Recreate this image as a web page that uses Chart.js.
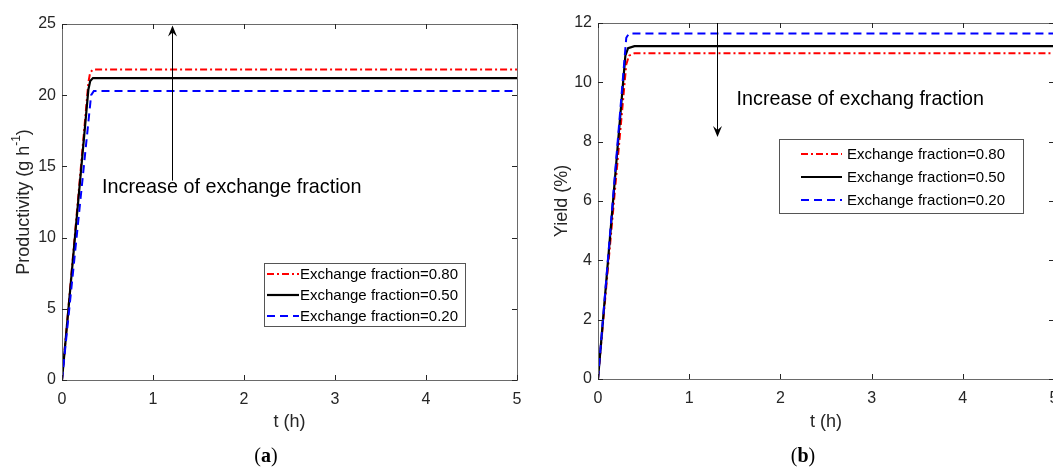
<!DOCTYPE html>
<html>
<head>
<meta charset="utf-8">
<script src="https://cdn.jsdelivr.net/npm/chart.js@4.4.1/dist/chart.umd.min.js"></script>
<style>
html, body { margin: 0; padding: 0; background: #fff; overflow: hidden; width: 1053px; height: 468px; }
#chart-a { position: absolute; left: 0; top: 0; }
#chart-b { position: absolute; left: 540px; top: 0; }
</style>
</head>
<body>
<canvas id="chart-a" width="540" height="468"></canvas>
<canvas id="chart-b" width="560" height="468"></canvas>
<script>
// ---- data ----
const seriesLabels = ['Exchange fraction=0.80', 'Exchange fraction=0.50', 'Exchange fraction=0.20'];
const xTicks = [0, 1, 2, 3, 4, 5];

// (a) productivity, g h^-1
const prodTime80 = [0, 0.29, 0.31, 0.34, 5];
const prodVal80  = [0, 20.9, 21.6, 21.8, 21.8];
const prodTime50 = [0, 0.29, 0.31, 0.34, 5];
const prodVal50  = [0, 20.4, 21.0, 21.2, 21.2];
const prodTime20 = [0, 0.32, 0.35, 5];
const prodVal20  = [0, 20.0, 20.3, 20.3];
const prodTicks  = [0, 5, 10, 15, 20, 25];

// (b) yield, %
const yieldTime80 = [0, 0.31, 0.34, 0.40, 5];
const yieldVal80  = [0, 10.6, 10.9, 10.98, 10.98];
const yieldTime50 = [0, 0.30, 0.33, 0.40, 5];
const yieldVal50  = [0, 10.9, 11.15, 11.22, 11.22];
const yieldTime20 = [0, 0.31, 0.34, 5];
const yieldVal20  = [0, 11.5, 11.65, 11.65];
const yieldTicks  = [0, 2, 4, 6, 8, 10, 12];

const FONT = "'Liberation Sans', Arial, sans-serif";
const INK = '#262626';

const lineStyles = [
    {borderColor: '#ff0000', borderDash: [7, 3, 2, 3], borderWidth: 2, order: 2},
    {borderColor: '#000000', borderDash: [], borderWidth: 2.2, order: 1},
    {borderColor: '#0000ff', borderDash: [8, 5], borderWidth: 2, order: 0}
];

function toPoints(ts, vals) {
    return ts.map((t, i) => ({x: t, y: vals[i]}));
}

// box, inward ticks on all four sides (matlab look)
const frame = {
    id: 'frame',
    afterDatasetsDraw(chart) {
        const {ctx, chartArea: a, scales: {x, y}} = chart;
        ctx.save();
        ctx.strokeStyle = '#6a6a6a';
        ctx.lineWidth = 1;
        ctx.strokeRect(Math.round(a.left) + 0.5, Math.round(a.top) + 0.5, Math.round(a.width), Math.round(a.height));
        ctx.strokeStyle = INK;
        ctx.beginPath();
        for (let t of x.ticks) {
            const px = Math.round(x.getPixelForValue(t.value)) + 0.5;
            ctx.moveTo(px, a.bottom); ctx.lineTo(px, a.bottom - 5);
            ctx.moveTo(px, a.top); ctx.lineTo(px, a.top + 5);
        }
        for (let t of y.ticks) {
            const py = Math.round(y.getPixelForValue(t.value)) + 0.5;
            ctx.moveTo(a.left, py); ctx.lineTo(a.left + 5, py);
            ctx.moveTo(a.right, py); ctx.lineTo(a.right - 5, py);
        }
        ctx.stroke();
        ctx.restore();
    }
};

// arrow + note, legend box, axis titles, caption
const extras = {
    id: 'extras',
    afterDraw(chart, args, o) {
        const {ctx, chartArea: a, scales: {x, y}} = chart;
        ctx.save();

        // arrow
        const ax = Math.round(x.getPixelForValue(o.arrow.x)) + 0.5;
        const y1 = y.getPixelForValue(o.arrow.from);
        const y2 = y.getPixelForValue(o.arrow.to);
        const dir = y2 < y1 ? -1 : 1;
        ctx.strokeStyle = '#000';
        ctx.lineWidth = 1;
        ctx.beginPath();
        ctx.moveTo(ax, y1);
        ctx.lineTo(ax, y2 - dir * 6);
        ctx.stroke();
        ctx.fillStyle = '#000';
        ctx.beginPath();
        ctx.moveTo(ax, y2);
        ctx.lineTo(ax - 4.5, y2 - dir * 11);
        ctx.lineTo(ax, y2 - dir * 7);
        ctx.lineTo(ax + 4.5, y2 - dir * 11);
        ctx.closePath();
        ctx.fill();

        // note
        ctx.font = o.note.size + 'px ' + FONT;
        ctx.fillStyle = '#000';
        ctx.textAlign = 'left';
        ctx.textBaseline = 'middle';
        ctx.fillText(o.note.text, x.getPixelForValue(o.note.x), y.getPixelForValue(o.note.y));

        // legend
        const L = o.legend;
        ctx.fillStyle = '#fff';
        ctx.fillRect(L.left, L.top, L.width, L.height);
        ctx.strokeStyle = '#555';
        ctx.lineWidth = 1;
        ctx.strokeRect(L.left + 0.5, L.top + 0.5, L.width, L.height);
        ctx.font = '15px ' + FONT;
        chart.data.datasets.forEach((ds, i) => {
            const ry = L.top + L.firstRow + i * L.rowGap;
            ctx.strokeStyle = ds.borderColor;
            ctx.lineWidth = ds.borderWidth;
            ctx.setLineDash(ds.borderDash);
            ctx.beginPath();
            ctx.moveTo(L.left + L.sampleLeft, ry);
            ctx.lineTo(L.left + L.sampleLeft + L.sampleLen, ry);
            ctx.stroke();
            ctx.setLineDash([]);
            ctx.fillStyle = '#000';
            ctx.textAlign = 'left';
            ctx.fillText(ds.label, L.left + L.textLeft, ry + 1);
        });

        // x title
        ctx.fillStyle = INK;
        ctx.font = '18px ' + FONT;
        ctx.textAlign = 'center';
        ctx.fillText('t (h)', (a.left + a.right) / 2, 422);

        // y title (rotated)
        ctx.save();
        ctx.translate(o.yTitleX, (a.top + a.bottom) / 2);
        ctx.rotate(-Math.PI / 2);
        const parts = o.yTitle;
        let total = 0;
        for (let p of parts) {
            ctx.font = (p.sup ? '12px ' : '18px ') + FONT;
            total += ctx.measureText(p.t).width;
        }
        let cx = -total / 2;
        ctx.textAlign = 'left';
        for (let p of parts) {
            ctx.font = (p.sup ? '12px ' : '18px ') + FONT;
            ctx.fillText(p.t, cx, p.sup ? -7 : 0);
            cx += ctx.measureText(p.t).width;
        }
        ctx.restore();

        // caption (a)/(b)
        const cap = [['(', 'normal'], [o.caption, 'bold'], [')', 'normal']];
        let cw = 0;
        for (let c of cap) { ctx.font = c[1] + " 20px 'Liberation Serif', serif"; cw += ctx.measureText(c[0]).width; }
        let ccx = o.captionX - cw / 2;
        ctx.fillStyle = '#000';
        ctx.textAlign = 'left';
        for (let c of cap) {
            ctx.font = c[1] + " 20px 'Liberation Serif', serif";
            ctx.fillText(c[0], ccx, 457);
            ccx += ctx.measureText(c[0]).width;
        }
        ctx.restore();
    }
};

function buildChart(canvasId, series, yMax, yStep, yWidth, pad, extraOpts) {
    const datasets = series.map((s, i) => Object.assign({
        label: seriesLabels[i],
        data: toPoints(s[0], s[1]),
        pointRadius: 0,
        tension: 0,
        fill: false
    }, lineStyles[i]));
    return new Chart(document.getElementById(canvasId), {
        type: 'line',
        data: {datasets: datasets},
        options: {
            responsive: false,
            animation: false,
            layout: {padding: pad},
            plugins: {legend: {display: false}, tooltip: {enabled: false}, extras: extraOpts},
            scales: {
                x: {
                    type: 'linear', min: 0, max: 5,
                    afterBuildTicks: (s) => { s.ticks = xTicks.map(v => ({value: v})); },
                    ticks: {color: INK, font: {family: FONT, size: 16}, padding: 10, maxRotation: 0},
                    grid: {display: false, drawTicks: false},
                    border: {display: false},
                    afterFit: (s) => { s.height = 468 - pad.bottomLine; }
                },
                y: {
                    type: 'linear', min: 0, max: yMax,
                    ticks: {stepSize: yStep, color: INK, font: {family: FONT, size: 16}, padding: 6},
                    grid: {display: false, drawTicks: false},
                    border: {display: false},
                    afterFit: (s) => { s.width = yWidth; }
                }
            }
        },
        plugins: [frame, extras]
    });
}

buildChart('chart-a',
    [[prodTime80, prodVal80], [prodTime50, prodVal50], [prodTime20, prodVal20]],
    25, 5, 62, {left: 0, top: 24, right: 23, bottom: 0, bottomLine: 380},
    {
        arrow: {x: 1.21, from: 14.0, to: 24.9},
        note: {x: 0.44, y: 13.55, text: 'Increase of exchange fraction', size: 19.8},
        legend: {left: 264, top: 263, width: 201, height: 63, firstRow: 11, rowGap: 21, sampleLeft: 3, sampleLen: 32, textLeft: 36},
        yTitle: [{t: 'Productivity (g h'}, {t: '-1', sup: true}, {t: ')'}],
        yTitleX: 24,
        caption: 'a',
        captionX: 266
    });

buildChart('chart-b',
    [[yieldTime80, yieldVal80], [yieldTime50, yieldVal50], [yieldTime20, yieldVal20]],
    12, 2, 58, {left: 0, top: 23, right: 46, bottom: 0, bottomLine: 379},
    {
        arrow: {x: 1.30, from: 12, to: 8.16},
        note: {x: 1.52, y: 9.41, text: 'Increase of exchang fraction', size: 19.7},
        legend: {left: 239, top: 139, width: 244, height: 74, firstRow: 15, rowGap: 23, sampleLeft: 22, sampleLen: 41, textLeft: 68},
        yTitle: [{t: 'Yield (%)'}],
        yTitleX: 22,
        caption: 'b',
        captionX: 263
    });
</script>
</body>
</html>
